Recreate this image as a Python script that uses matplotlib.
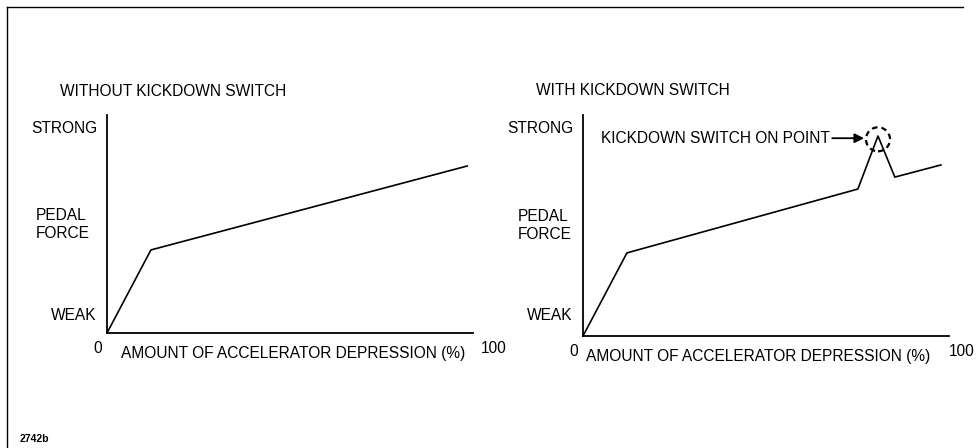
import matplotlib.pyplot as plt
from matplotlib.lines import Line2D
from matplotlib.patches import Circle

plt.rcParams['font.family'] = ['Liberation Sans', 'DejaVu Sans']

# === Data (x: % accelerator depression, y: relative pedal force) ===
x_without = [0, 12.0, 98.4]
y_without = [0, 38.1, 76.6]

x_with = [0, 12.0, 75.1, 80.6, 85.2, 97.8]
y_with = [0, 37.6, 66.5, 90.5, 71.9, 77.4]

y_labels = ["STRONG", "PEDAL\nFORCE", "WEAK"]
x_label = "AMOUNT OF ACCELERATOR DEPRESSION (%)"
titles = ["WITHOUT KICKDOWN SWITCH", "WITH KICKDOWN SWITCH"]
kick_text = "KICKDOWN SWITCH ON POINT"

W, H = 980, 448
fig = plt.figure(figsize=(W / 100, H / 100), dpi=100)
fs = 11.2


def px_axes(x0, y_top, w, h):
    return fig.add_axes([x0 / W, 1 - (y_top + h) / H, w / W, h / H])


def setup(ax, title, pedal_x, weak_y, hundred_x, label_x):
    ax.set_xlim(0, 100)
    ax.set_ylim(0, 100)
    for s in ['top', 'right']:
        ax.spines[s].set_visible(False)
    for s in ['left', 'bottom']:
        ax.spines[s].set_linewidth(1.3)
    ax.set_xticks([])
    ax.set_yticks([])
    ax.patch.set_alpha(0)
    # y labels
    ax.text(-2.5, 94, y_labels[0], ha='right', va='center', fontsize=fs, clip_on=False)
    ax.text(pedal_x, 50, y_labels[1], ha='left', va='center', fontsize=fs, linespacing=1.25, clip_on=False)
    ax.text(-2.8, weak_y, y_labels[2], ha='right', va='center', fontsize=fs, clip_on=False)
    # x labels
    ax.text(-1.5, -7, "0", ha='right', va='center', fontsize=fs, clip_on=False)
    ax.text(label_x, -9.5, x_label, ha='left', va='center', fontsize=fs, clip_on=False)
    ax.text(hundred_x, -7, "100", ha='left', va='center', fontsize=fs, clip_on=False)
    ax.text(-12.8, 111, title, ha='left', va='center', fontsize=fs, clip_on=False)


ax1 = px_axes(107, 115, 366, 218)
setup(ax1, titles[0], pedal_x=-19.5, weak_y=7.8, hundred_x=102.2, label_x=3.8)
ax1.plot(x_without, y_without, color='black', lw=1.2, clip_on=False)

ax2 = px_axes(583, 115, 366, 221)
setup(ax2, titles[1], pedal_x=-17.8, weak_y=9.5, hundred_x=100, label_x=0.8)
ax2.plot(x_with, y_with, color='black', lw=1.2, clip_on=False)

# dashed circle around kickdown point (drawn in pixel space so it stays round)
peak_px = ax2.transData.transform((x_with[3], y_with[3] - 1.5))
circ = Circle((peak_px[0], peak_px[1]), 12, transform=None, fill=False,
              ls=(0, (2.5, 1.8)), lw=1.6, color='black')
fig.add_artist(circ)

ax2.annotate(kick_text, xy=(76.8, 89.5), xytext=(4.8, 89.5),
             ha='left', va='center', fontsize=fs,
             arrowprops=dict(arrowstyle='-|>', color='black', lw=1.3,
                             mutation_scale=14, shrinkA=0, shrinkB=0))

# frame lines (top and left)
fig.add_artist(Line2D([7 / W, 963 / W], [1 - 7 / H, 1 - 7 / H], color='black', lw=1.0))
fig.add_artist(Line2D([7 / W, 7 / W], [1 - 7 / H, 0], color='black', lw=1.0))

fig.text(20 / W, 1 - 439 / H, "2742b", fontsize=7.5, fontweight='bold', va='center')

fig.savefig('out.png', dpi=100)
